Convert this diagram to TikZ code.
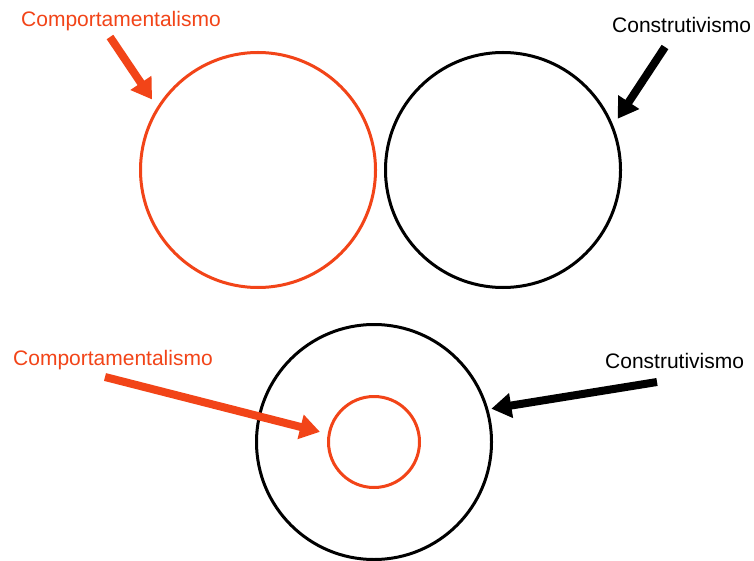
\documentclass[tikz,border=0pt]{standalone}
\usepackage{fontspec}
\setmainfont{Liberation Sans}
\usetikzlibrary{arrows.meta}
\definecolor{behavOrange}{RGB}{242,68,24}

\begin{document}
\begin{tikzpicture}[x=1pt,y=-1pt,
 every node/.style={font=\fontsize{21}{25}\selectfont,inner sep=0pt},
 ring/.style={draw,circle,line width=3pt,minimum size=#1,inner sep=0pt},
 fat/.style={line width=8pt,-{Triangle[length=20pt,width=24pt]}}]
\fill[white] (0,0) rectangle (754,561);
\useasboundingbox (0,0) rectangle (754,561);
% top row
\node[ring=235pt,draw=behavOrange] (behavTop) at (258,170) {};
\node[ring=235pt] (constTop) at (503,170) {};
\node[anchor=base west,text=behavOrange] (lblBehavTop) at (21,27) {Comportamentalismo};
\node[anchor=base west] (lblConstTop) at (612,33) {Construtivismo};
\coordinate (tailBehavTop) at (110,37);
\coordinate (tailConstTop) at (665,47);
\draw[fat,behavOrange,shorten >=9pt] (tailBehavTop) -- (behavTop.148);
\draw[fat,shorten >=8pt] (tailConstTop) -- (constTop.22);
% bottom row
\node[ring=235pt] (constBot) at (374,442) {};
\node[ring=91pt,draw=behavOrange] (behavBot) at (374,442) {};
\node[anchor=base west,text=behavOrange] (lblBehavBot) at (13,365) {Comportamentalismo};
\node[anchor=base west] (lblConstBot) at (605,368) {Construtivismo};
\coordinate (tailBehavBot) at (105,377);
\coordinate (tailConstBot) at (657,382);
\draw[fat,behavOrange,shorten >=8pt] (tailBehavBot) -- (behavBot.170);
\draw[fat,shorten >=3pt] (tailConstBot) -- (constBot.16);
\end{tikzpicture}
\end{document}
